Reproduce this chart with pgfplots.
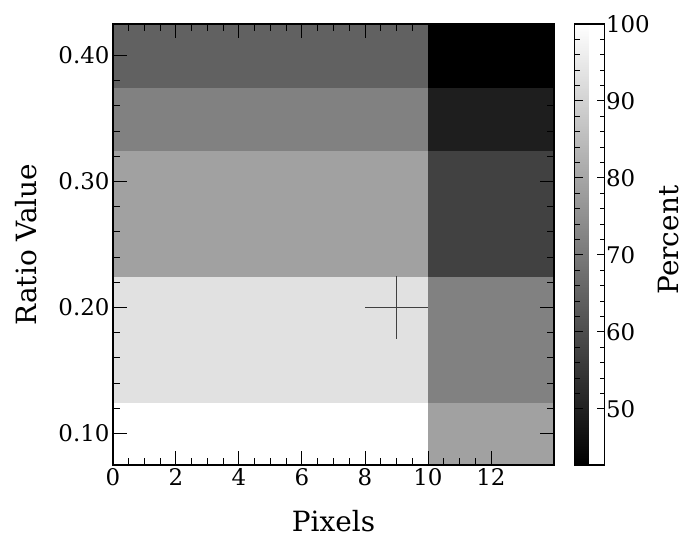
\documentclass[border=0pt]{standalone}
\usepackage{pgfplots}
\pgfplotsset{compat=1.18}
\usepackage{pgfplotstable}
\usepackage{fontspec}
\setmainfont{DejaVu Serif}

% Rectangular cells: four corners per cell, all carrying the cell's value
\pgfplotstableread{
x    y      c
0    0.075  100
10   0.075  100
10   0.125  100
0    0.125  100
0    0.125  92.8
10   0.125  92.8
10   0.225  92.8
0    0.225  92.8
0    0.225  78.6
10   0.225  78.6
10   0.325  78.6
0    0.325  78.6
0    0.325  71.5
10   0.325  71.5
10   0.375  71.5
0    0.375  71.5
0    0.375  64.3
10   0.375  64.3
10   0.425  64.3
0    0.425  64.3
10   0.075  78.6
14   0.075  78.6
14   0.125  78.6
10   0.125  78.6
10   0.125  71.5
14   0.125  71.5
14   0.225  71.5
10   0.225  71.5
10   0.225  57.1
14   0.225  57.1
14   0.325  57.1
10   0.325  57.1
10   0.325  49.4
14   0.325  49.4
14   0.375  49.4
10   0.375  49.4
10   0.375  42.7
14   0.375  42.7
14   0.425  42.7
10   0.425  42.7
}\cells

\begin{document}
\begin{tikzpicture}
\begin{axis}[
  scale only axis, width=441bp, height=441bp,
  xmin=0, xmax=14, ymin=0.075, ymax=0.425,
  xtick={0,2,...,12}, minor x tick num=3,
  ytick={0.1,0.2,0.3,0.4}, minor y tick num=4,
  yticklabel style={/pgf/number format/.cd, fixed, fixed zerofill, precision=2},
  /pgf/number format/assume math mode=true,
  tick align=inside, tick pos=both,
  major tick length=14bp, minor tick length=7bp,
  tick style={black, line width=1bp},
  axis line style={line width=1.6bp},
  ticklabel style={font=\fontsize{23}{26}\selectfont},
  label style={font=\fontsize{28}{32}\selectfont},
  xlabel={Pixels}, ylabel={Ratio Value},
  xlabel style={at={(axis description cs:0.5,-0.128)}, anchor=center},
  ylabel style={at={(axis description cs:-0.197,0.5)}, anchor=center},
  axis on top,
  colormap={graybw}{gray(0cm)=(0); gray(1cm)=(1)},
  point meta min=42.7, point meta max=100,
  colorbar,
  colorbar style={
    at={(parent axis.north east)}, anchor=north west, xshift=12bp,
    width=30bp,
    /pgf/number format/assume math mode=true,
    ytick={50,60,...,100}, minor y tick num=4,
    ytick pos=both, yticklabel pos=right,
    tick align=inside,
    major tick length=8bp, minor tick length=5bp,
    tick style={black, line width=1bp},
    axis line style={line width=1.6bp},
    yticklabel style={font=\fontsize{23}{26}\selectfont, xshift=-2bp},
    ylabel={Percent},
    ylabel style={font=\fontsize{28}{32}\selectfont,
      at={(axis description cs:3.12,0.51)}, anchor=center},
  },
]
\addplot[patch, patch type=rectangle, shader=flat, point meta=explicit]
  table[x=x, y=y, meta=c] {\cells};
\addplot[black!75, line width=1.5bp] coordinates {(8,0.2) (10,0.2)};
\addplot[black!75, line width=1.5bp] coordinates {(9,0.175) (9,0.225)};
\end{axis}
\pgfresetboundingbox
\path (current axis.south west) ++(-113bp,-73bp) rectangle ++(692bp,538bp);
\end{tikzpicture}
\end{document}
